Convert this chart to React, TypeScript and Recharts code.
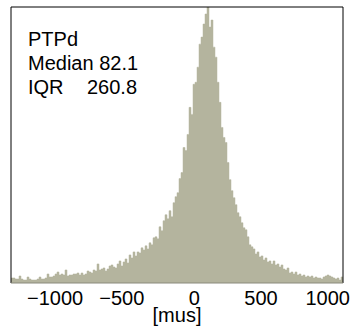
import React from "react";
import { ComposedChart, Area, XAxis, YAxis, ReferenceLine } from "recharts";

// Histogram of PTPd offsets [mus]; bins of 15 mus from -1375 to 1115
const binStart = -1375;
const binWidth = 15;
const counts: number[] = [
  5, 5, 4, 4, 7, 4, 3, 3, 6, 4,
  3, 3, 3, 4, 6, 4, 4, 5, 9, 6,
  6, 7, 9, 11, 8, 9, 8, 13, 7, 8,
  8, 9, 9, 10, 8, 10, 8, 9, 12, 11,
  10, 13, 12, 19, 13, 14, 15, 12, 14, 17,
  18, 16, 15, 19, 22, 17, 21, 24, 20, 28,
  25, 31, 27, 31, 30, 35, 33, 37, 34, 40,
  38, 45, 46, 44, 56, 52, 62, 68, 64, 72,
  66, 80, 86, 90, 104, 110, 135, 132, 148, 175,
  168, 198, 200, 215, 238, 245, 258, 268, 275, 255,
  262, 235, 225, 200, 180, 155, 145, 140, 120, 103,
  92, 85, 78, 70, 66, 60, 55, 53, 46, 38,
  36, 34, 29, 31, 26, 27, 23, 25, 21, 22,
  19, 22, 18, 19, 16, 18, 14, 13, 15, 10,
  11, 9, 11, 8, 9, 7, 8, 6, 7, 6,
  7, 5, 6, 5, 5, 4, 6, 7, 8, 7,
  6, 5, 4, 5, 3, 6,
];
const xTicks: number[] = [-1000, -500, 0, 500, 1000];
const statLabels: string[] = ["PTPd", "Median 82.1", "IQR", "260.8"];

const xMin = binStart;
const xMax = binStart + binWidth * counts.length;
// left edge of every bin, plus the closing right edge of the last bin
const data = counts
  .map((c, i) => ({ edge: binStart + binWidth * i, count: c }))
  .concat([{ edge: xMax, count: counts[counts.length - 1] }]);

const FONT = "'Liberation Sans', Arial, Helvetica, sans-serif";
const TICK_FS = 20;

// digits centred on the tick, minus sign hanging to the left (as in the reference)
function TickLabel(props: any) {
  const { x, y, payload } = props;
  const v: number = payload.value;
  const digits = String(Math.abs(v));
  const half = (digits.length * 0.556 * TICK_FS) / 2;
  const label = v < 0 ? "\u2212" + digits : digits;
  return (
    <text
      x={x + half}
      y={y}
      dy={0.71 * TICK_FS}
      textAnchor="end"
      fontFamily={FONT}
      fontSize={TICK_FS}
      fill="#000"
    >
      {label}
    </text>
  );
}

export default function App() {
  return (
    <div style={{ position: "absolute", left: 0, top: 0, width: 356, height: 331, background: "#fff" }}>
      <ComposedChart
        width={356}
        height={331}
        data={data}
        margin={{ top: 7, right: 13, bottom: 0, left: 11 }}
      >
        <XAxis
          dataKey="edge"
          type="number"
          domain={[xMin, xMax]}
          allowDataOverflow
          ticks={xTicks}
          height={48}
          axisLine={{ stroke: "#8a8a7c" }}
          tickLine={false}
          tick={<TickLabel />}
          label={{ value: "[mus]", position: "insideBottom", offset: 9, fontSize: 20, fontFamily: FONT, fill: "#000" }}
        />
        <XAxis
          xAxisId="top"
          dataKey="edge"
          orientation="top"
          type="number"
          domain={[xMin, xMax]}
          allowDataOverflow
          ticks={xTicks}
          height={1}
          mirror
          tick={false}
          tickSize={3}
          axisLine={{ stroke: "#000" }}
          tickLine={{ stroke: "#000" }}
        />
        <YAxis hide domain={[0, 275]} allowDataOverflow />
        <Area
          type="stepAfter"
          dataKey="count"
          fill="#b4b49e"
          fillOpacity={1}
          stroke="#b4b49e"
          strokeWidth={0.5}
          isAnimationActive={false}
          dot={false}
          activeDot={false}
        />
        <ReferenceLine x={xMin} stroke="#000" strokeWidth={1} />
        <ReferenceLine x={xMax} stroke="#000" strokeWidth={1} />
      </ComposedChart>
      <svg
        width={356}
        height={331}
        style={{ position: "absolute", left: 0, top: 0, pointerEvents: "none" }}
      >
        <g fontFamily={FONT} fontSize={20} fill="#000">
          <text x={28} y={46}>{statLabels[0]}</text>
          <text x={28} y={70}>{statLabels[1]}</text>
          <text x={28} y={94}>{statLabels[2]}</text>
          <text x={87} y={94}>{statLabels[3]}</text>
        </g>
      </svg>
    </div>
  );
}
